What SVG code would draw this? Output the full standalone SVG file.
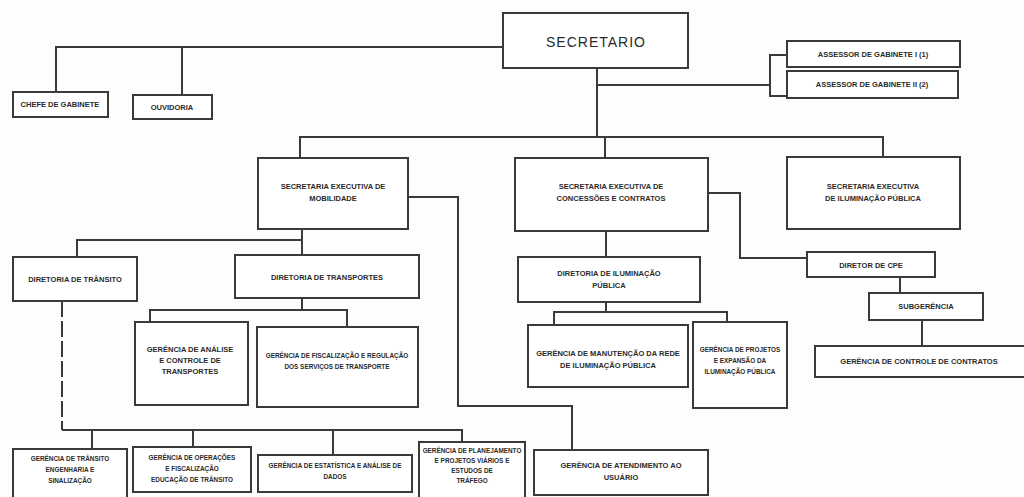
<svg xmlns="http://www.w3.org/2000/svg" width="1024" height="497" viewBox="0 0 1024 497">
<style>
.bg{fill:#fdfdfc}
.box{fill:#ffffff;stroke:#3a3a3a;stroke-width:2}
.ln{fill:none;stroke:#3a3a3a;stroke-width:2}
.dash{fill:none;stroke:#3a3a3a;stroke-width:2;stroke-dasharray:16 4}
text{font-family:"Liberation Sans",Arial,sans-serif;font-size:7.5px;fill:#2a2a2a;text-anchor:middle;font-weight:bold}
.sm{font-size:6.4px}
.big{font-size:14px;font-weight:normal;letter-spacing:1px}
</style>
<rect class="bg" x="0" y="0" width="1024" height="497"/>
<g id="connectors">
<polyline class="ln" points="56,92 56,47 503,47"/>
<line class="ln" x1="182" y1="47" x2="182" y2="95"/>
<line class="ln" x1="597" y1="68" x2="597" y2="137"/>
<line class="ln" x1="597" y1="85" x2="770" y2="85"/>
<polyline class="ln" points="787,55 770,55 770,96 787,96"/>
<polyline class="ln" points="300,158 300,137 883,137 883,157"/>
<line class="ln" x1="605" y1="137" x2="605" y2="158"/>
<polyline class="ln" points="408,197 458,197 458,406 572,406 572,450"/>
<polyline class="ln" points="708,193 740,193 740,258 807,258"/>
<line class="ln" x1="606" y1="231" x2="606" y2="257"/>
<polyline class="ln" points="554,325 554,312 727,312 727,322"/>
<line class="ln" x1="606" y1="302" x2="606" y2="312"/>
<line class="ln" x1="900" y1="277" x2="900" y2="293"/>
<line class="ln" x1="922" y1="320" x2="922" y2="346"/>
<line class="ln" x1="302" y1="229" x2="302" y2="255"/>
<polyline class="ln" points="77,257 77,240 302,240"/>
<line class="ln" x1="302" y1="298" x2="302" y2="310"/>
<polyline class="ln" points="150,322 150,310 347,310 347,327"/>
<line class="dash" x1="62" y1="301" x2="62" y2="430"/>
<polyline class="ln" points="62,430 462,430 462,442"/>
<line class="ln" x1="92" y1="430" x2="92" y2="449"/>
<line class="ln" x1="193" y1="430" x2="193" y2="447"/>
<line class="ln" x1="333" y1="430" x2="333" y2="455"/>
</g>
<g id="secretario"><rect class="box" x="503" y="13" width="185" height="55"/><text class="big" x="596" y="47">SECRETARIO</text></g>
<g id="chefe-gabinete"><rect class="box" x="13" y="92" width="95" height="25"/><text x="60" y="107">CHEFE DE GABINETE</text></g>
<g id="ouvidoria"><rect class="box" x="133" y="95" width="79" height="24"/><text x="172" y="110">OUVIDORIA</text></g>
<g id="assessor1"><rect class="box" x="787" y="41" width="173" height="26"/><text x="873" y="57">ASSESSOR DE GABINETE I (1)</text></g>
<g id="assessor2"><rect class="box" x="787" y="71" width="171" height="27"/><text x="872" y="87">ASSESSOR DE GABINETE II (2)</text></g>
<g id="se-mobilidade"><rect class="box" x="258" y="158" width="150" height="71"/><text x="333" y="189">SECRETARIA EXECUTIVA DE</text><text x="333" y="201">MOBILIDADE</text></g>
<g id="se-concessoes"><rect class="box" x="515" y="158" width="193" height="73"/><text x="611" y="189">SECRETARIA EXECUTIVA DE</text><text x="611" y="201">CONCESSÕES E CONTRATOS</text></g>
<g id="se-iluminacao"><rect class="box" x="787" y="157" width="173" height="72"/><text x="873" y="189">SECRETARIA EXECUTIVA</text><text x="873" y="201">DE ILUMINAÇÃO PÚBLICA</text></g>
<g id="dir-transito"><rect class="box" x="13" y="257" width="124" height="44"/><text x="75" y="282">DIRETORIA DE TRÂNSITO</text></g>
<g id="dir-transportes"><rect class="box" x="235" y="255" width="184" height="43"/><text x="327" y="280">DIRETORIA DE TRANSPORTES</text></g>
<g id="ger-analise"><rect class="box" x="135" y="322" width="113" height="83"/><text x="190" y="352">GERÊNCIA DE ANÁLISE</text><text x="190" y="363">E CONTROLE DE</text><text x="190" y="374">TRANSPORTES</text></g>
<g id="ger-fiscalizacao"><rect class="box" x="257" y="327" width="161" height="80"/><text class="sm" x="337" y="358">GERÊNCIA DE FISCALIZAÇÃO E REGULAÇÃO</text><text class="sm" x="337" y="369">DOS SERVIÇOS DE TRANSPORTE</text></g>
<g id="dir-iluminacao"><rect class="box" x="518" y="257" width="182" height="45"/><text x="609" y="276">DIRETORIA DE ILUMINAÇÃO</text><text x="609" y="288">PÚBLICA</text></g>
<g id="ger-manutencao"><rect class="box" x="528" y="325" width="160" height="62"/><text x="608" y="356">GERÊNCIA DE MANUTENÇÃO DA REDE</text><text x="608" y="368">DE ILUMINAÇÃO PÚBLICA</text></g>
<g id="ger-projetos"><rect class="box" x="693" y="322" width="94" height="86"/><text class="sm" x="740" y="352">GERÊNCIA DE PROJETOS</text><text class="sm" x="740" y="363">E EXPANSÃO DA</text><text class="sm" x="740" y="374">ILUMINAÇÃO PÚBLICA</text></g>
<g id="diretor-cpe"><rect class="box" x="807" y="252" width="128" height="25"/><text x="871" y="268">DIRETOR DE CPE</text></g>
<g id="subgerencia"><rect class="box" x="869" y="293" width="114" height="27"/><text x="926" y="309">SUBGERÊNCIA</text></g>
<g id="ger-contratos"><rect class="box" x="815" y="346" width="220" height="31"/><text x="919" y="364">GERÊNCIA DE CONTROLE DE CONTRATOS</text></g>
<g id="ger-engenharia"><rect class="box" x="13" y="449" width="114" height="52"/><text class="sm" x="70" y="461">GERÊNCIA DE TRÂNSITO</text><text class="sm" x="70" y="472">ENGENHARIA E</text><text class="sm" x="70" y="483">SINALIZAÇÃO</text></g>
<g id="ger-operacoes"><rect class="box" x="133" y="447" width="118" height="45"/><text class="sm" x="192" y="460">GERÊNCIA DE OPERAÇÕES</text><text class="sm" x="192" y="471">E FISCALIZAÇÃO</text><text class="sm" x="192" y="482">EDUCAÇÃO DE TRÂNSITO</text></g>
<g id="ger-estatistica"><rect class="box" x="258" y="455" width="154" height="37"/><text class="sm" x="335" y="468">GERÊNCIA DE ESTATÍSTICA E ANÁLISE DE</text><text class="sm" x="335" y="479">DADOS</text></g>
<g id="ger-planejamento"><rect class="box" x="419" y="442" width="106" height="60"/><text class="sm" x="472" y="453">GERÊNCIA DE PLANEJAMENTO</text><text class="sm" x="472" y="463">E PROJETOS VIÁRIOS E</text><text class="sm" x="472" y="473">ESTUDOS DE</text><text class="sm" x="472" y="483">TRÁFEGO</text></g>
<g id="ger-atendimento"><rect class="box" x="534" y="450" width="174" height="45"/><text x="621" y="468">GERÊNCIA DE ATENDIMENTO AO</text><text x="621" y="480">USUÁRIO</text></g>
</svg>
